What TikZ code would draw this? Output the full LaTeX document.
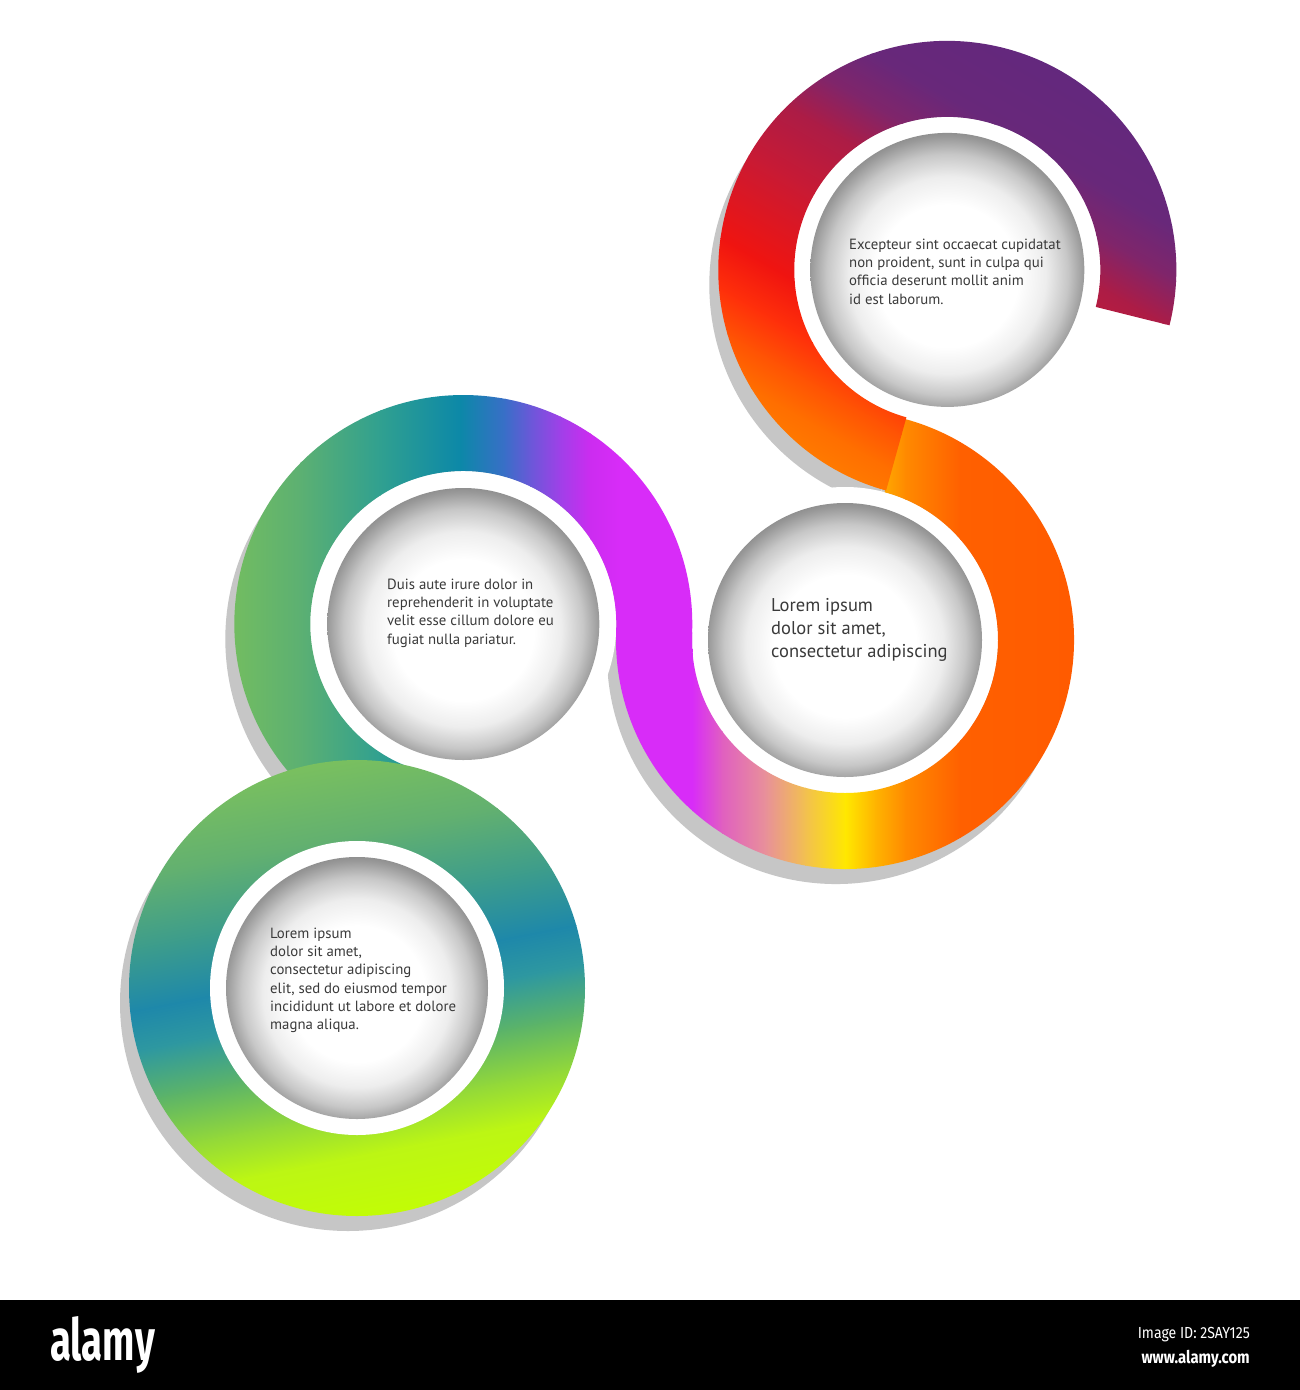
\documentclass[tikz,border=0pt]{standalone}
\usepackage{fontspec}
\setmainfont{PT Sans}
\newfontfamily\markfont{Fira Sans}
\usepackage{graphicx}
\usetikzlibrary{calc}

\definecolor{shadowgray}{HTML}{C6C6C6}
\definecolor{txt}{HTML}{3A3A3A}
% band 1 (rotated linear gradient)
\definecolor{c1a}{HTML}{62287E}
\definecolor{c1b}{HTML}{68287A}
\definecolor{c1c}{HTML}{80256A}
\definecolor{c1d}{HTML}{AC1C46}
\definecolor{c1e}{HTML}{C81A34}
\definecolor{c1f}{HTML}{F01410}
\definecolor{c1g}{HTML}{FF300A}
\definecolor{c1h}{HTML}{FF5204}
\definecolor{c1i}{HTML}{FF6E00}
\definecolor{c1j}{HTML}{FF8200}
% band 2 (horizontal)
\definecolor{c2a}{HTML}{D82CF8}
\definecolor{c2b}{HTML}{D83AF0}
\definecolor{c2c}{HTML}{E060C0}
\definecolor{c2d}{HTML}{E8909A}
\definecolor{c2e}{HTML}{F2C050}
\definecolor{c2f}{HTML}{FFE800}
\definecolor{c2g}{HTML}{FFB400}
\definecolor{c2h}{HTML}{FF8A00}
\definecolor{c2i}{HTML}{FF6000}
\definecolor{c2j}{HTML}{FF5A00}
% band 3 (horizontal)
\definecolor{c3a}{HTML}{78C05C}
\definecolor{c3b}{HTML}{5CB072}
\definecolor{c3c}{HTML}{30A090}
\definecolor{c3d}{HTML}{0C88A8}
\definecolor{c3e}{HTML}{3A6EC8}
\definecolor{c3f}{HTML}{6A58D8}
\definecolor{c3g}{HTML}{A040E8}
\definecolor{c3h}{HTML}{CC2CF0}
\definecolor{c3i}{HTML}{D82CF8}
% ring 4 (rotated linear gradient)
\definecolor{c4a}{HTML}{80C45A}
\definecolor{c4b}{HTML}{62B070}
\definecolor{c4c}{HTML}{3C9C8C}
\definecolor{c4d}{HTML}{1E88AA}
\definecolor{c4e}{HTML}{2E98A0}
\definecolor{c4f}{HTML}{5CB468}
\definecolor{c4g}{HTML}{92D83A}
\definecolor{c4h}{HTML}{BCF614}
\definecolor{c4i}{HTML}{C4FF00}

\pgfdeclareradialshading{discshade}{\pgfpoint{0bp}{-1.5bp}}{color(0bp)=(white); color(13bp)=(white); color(18bp)=(black!7); color(22bp)=(black!22); color(25bp)=(black!40); color(26.5bp)=(black!47); color(50bp)=(black!47)}

\newcommand\rIn{153}
\newcommand\rOut{229}
\newcommand\bandsector[3]{($(#1)+(#2:\rOut)$) arc[start angle=#2,end angle=#3,radius=\rOut] -- ($(#1)+(#3:\rIn)$) arc[start angle=#3,end angle=#2,radius=\rIn] -- cycle}

\tikzset{
  bodytext/.style={inner sep=0pt, anchor=north west, align=left, text=txt, font=\fontsize{14.8}{18.3}\selectfont},
  bigtext/.style={inner sep=0pt, anchor=north west, align=left, text=txt, font=\fontsize{18.5}{22.6}\selectfont},
  disc/.style={shading=discshade},
  shadowfill/.style={fill=shadowgray}
}

\begin{document}
\begin{tikzpicture}[x=1pt,y=-1pt]
\useasboundingbox (0,0) rectangle (1300,1390);
\fill[white] (0,0) rectangle (1300,1390);

\coordinate (C2) at (845,640);
\coordinate (C1) at (947.3,269.9);
\coordinate (C3) at (463.3,624.0);
\coordinate (C4) at (357,988);

% shadows
\begin{scope}[transform canvas={shift={(-9,15)}}]
  \fill[shadowfill] \bandsector{C1}{-60}{-254.5};
  \fill[shadowfill] \bandsector{C2}{-74.5}{182.4};
  \fill[shadowfill] \bandsector{C3}{2.4}{-253.7};
  \fill[shadowfill] (C4) circle[radius=228];
\end{scope}

% white holes
\fill[white] (C1) circle[radius=\rIn];
\fill[white] (C2) circle[radius=\rIn];
\fill[white] (C3) circle[radius=\rIn];

% band 3
\begin{scope}
  \clip \bandsector{C3}{2.4}{-253.7};
  \foreach \xa/\ca/\xb/\cb in {215/c3a/300/c3b, 300/c3b/380/c3c, 380/c3c/460/c3d, 460/c3d/505/c3e, 505/c3e/530/c3f, 530/c3f/560/c3g, 560/c3g/590/c3h, 590/c3h/620/c3i, 620/c3i/700/c3i}
    \shade[left color=\ca,right color=\cb] (\xa,380) rectangle (\xb+0.8,870);
\end{scope}

% band 2
\begin{scope}
  \clip \bandsector{C2}{-75}{182.9};
  \foreach \xa/\ca/\xb/\cb in {600/c2a/692/c2a, 692/c2a/722/c2c, 722/c2c/765/c2d, 765/c2d/805/c2e, 805/c2e/845/c2f, 845/c2f/875/c2g, 875/c2g/905/c2h, 905/c2h/960/c2i, 960/c2i/1090/c2j}
    \shade[left color=\ca,right color=\cb] (\xa,395) rectangle (\xb+0.8,885);
\end{scope}

% band 1
\begin{scope}
  \clip \bandsector{C1}{14}{-254.5};
  \begin{scope}[transform canvas={shift={(947.3,269.9)},rotate=-120}]
    \foreach \xa/\ca/\xb/\cb in {-250/c1a/-150/c1b, -150/c1b/-105/c1c, -105/c1c/-62/c1d, -62/c1d/0/c1e, 0/c1e/86/c1f, 86/c1f/130/c1g, 130/c1g/165/c1h, 165/c1h/200/c1i, 200/c1i/250/c1j}
      \shade[left color=\ca,right color=\cb] (\xa,-260) rectangle (\xb+0.8,260);
  \end{scope}
\end{scope}

% ring 4
\begin{scope}
  \clip (C4) circle[radius=228];
  \begin{scope}[transform canvas={shift={(357,988)},rotate=-79}]
    \foreach \xa/\ca/\xb/\cb in {-250/c4a/-150/c4b, -150/c4b/-80/c4c, -80/c4c/-20/c4d, -20/c4d/20/c4e, 20/c4e/70/c4f, 70/c4f/120/c4g, 120/c4g/165/c4h, 165/c4h/250/c4i}
      \shade[left color=\ca,right color=\cb] (\xa,-260) rectangle (\xb+0.8,260);
  \end{scope}
\end{scope}
\fill[white] (C4) circle[radius=147];

% inner discs
\shade[disc] (C1) circle[radius=137];
\shade[disc] (C2) circle[radius=137];
\shade[disc] (C3) circle[radius=136];
\shade[disc] (C4) circle[radius=131];

% texts
\node[bodytext] (t1) at (849,238.5) {Excepteur sint occaecat cupidatat\\non proident, sunt in culpa qui\\officia deserunt mollit anim\\id est laborum.};
\node[bodytext] (t3) at (387,578.5) {Duis aute irure dolor in\\reprehenderit in voluptate\\velit esse cillum dolore eu\\fugiat nulla pariatur.};
\node[bigtext] (t2) at (771,598.5) {Lorem ipsum\\dolor sit amet,\\consectetur adipiscing};
\node[bodytext] (t4) at (270,927.5) {Lorem ipsum\\dolor sit amet,\\consectetur adipiscing\\elit, sed do eiusmod tempor\\incididunt ut labore et dolore\\magna aliqua.};

% bottom bar
\fill[black] (0,1300) rectangle (1300,1390);
\node[anchor=base west, inner sep=0pt, text=white] (logo) at (50,1360) {\scalebox{0.66}[1]{\markfont\bfseries\fontsize{58}{58}\selectfont alamy}};
\node[anchor=base east, inner sep=0pt, text=white] (imgid) at (1250,1338) {\scalebox{0.88}[1]{\markfont\fontsize{16}{16}\selectfont Image ID: 2SAY125}};
\node[anchor=base east, inner sep=0pt, text=white] (www) at (1250,1363) {\scalebox{0.85}[1]{\markfont\bfseries\fontsize{17.5}{17.5}\selectfont www.alamy.com}};
\end{tikzpicture}
\end{document}
